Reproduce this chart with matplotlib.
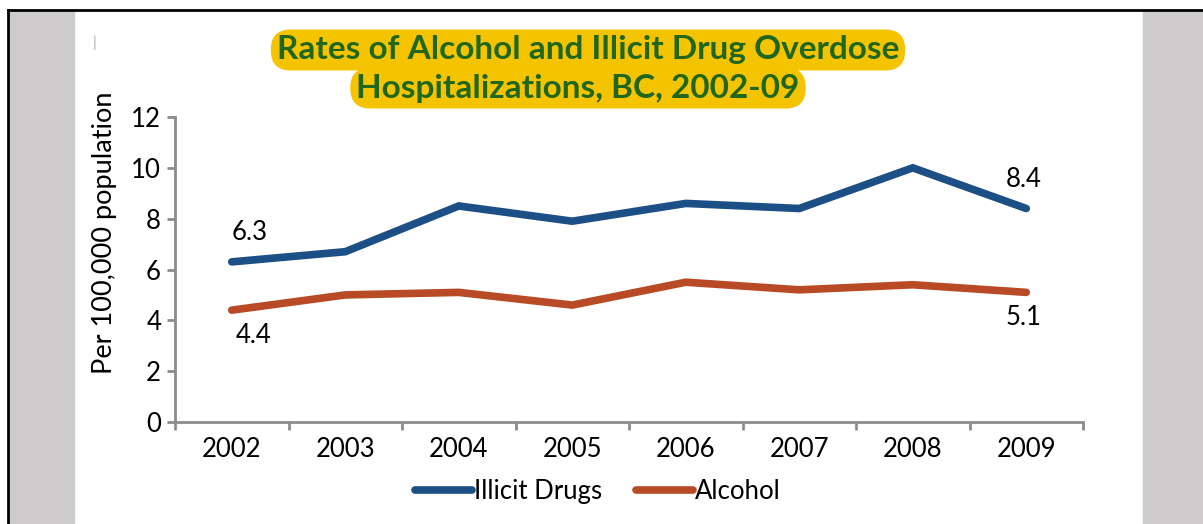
import matplotlib.pyplot as plt
from matplotlib.patches import Rectangle
from matplotlib.lines import Line2D

years = ["2002", "2003", "2004", "2005", "2006", "2007", "2008", "2009"]
illicit = [6.3, 6.7, 8.5, 7.9, 8.6, 8.4, 10.0, 8.4]
alcohol = [4.4, 5.0, 5.1, 4.6, 5.5, 5.2, 5.4, 5.1]
yticks = [0, 2, 4, 6, 8, 10, 12]

blue = "#1c4f86"
rust = "#b84b25"
grey = "#8c8c8c"

plt.rcParams["font.family"] = ["Lato", "DejaVu Sans"]

W, H = 1203, 524
fig = plt.figure(figsize=(W / 100, H / 100), dpi=100)

# page frame: grey side panels and black edge
fig.patches.append(Rectangle((8 / W, 0), 66 / W, 1 - 10 / H, transform=fig.transFigure,
                             color="#cdcbcc", zorder=0))
fig.patches.append(Rectangle((1143 / W, 0), 60 / W, 1 - 10 / H, transform=fig.transFigure,
                             color="#cdcbcc", zorder=0))
fig.lines.append(Line2D([8 / W, 1], [1 - 9.5 / H] * 2, transform=fig.transFigure, color="black", lw=2))
fig.lines.append(Line2D([8 / W] * 2, [0, 1 - 9.5 / H], transform=fig.transFigure, color="black", lw=2))

ax = fig.add_axes([175 / W, 1 - 422 / H, (1083 - 175) / W, (422 - 117) / H])
x = list(range(len(years)))
ax.plot(x, illicit, color=blue, lw=5.5, solid_capstyle="round", solid_joinstyle="miter", label="Illicit Drugs")
ax.plot(x, alcohol, color=rust, lw=5.5, solid_capstyle="round", solid_joinstyle="miter", label="Alcohol")

fs = 18.5
ax.set_xlim(-0.5, len(years) - 0.5)
ax.set_ylim(0, 12)
ax.set_yticks(yticks)
ax.set_xticks(x)
ax.set_xticklabels(years)
ax.set_xticks([i - 0.5 for i in range(len(years) + 1)], minor=True)
ax.tick_params(axis="x", which="major", length=0, pad=11, labelsize=fs)
ax.tick_params(axis="x", which="minor", length=6, width=2, color=grey)
ax.tick_params(axis="y", length=6, width=2, color=grey, labelsize=fs, pad=4)
for s in ["top", "right"]:
    ax.spines[s].set_visible(False)
for s in ["left", "bottom"]:
    ax.spines[s].set_color(grey)
    ax.spines[s].set_linewidth(2)
ax.set_ylabel("Per 100,000 population", fontsize=19.5)
ax.yaxis.set_label_coords(-0.064, 0.62)

# end-point value labels
ax.annotate(f"{illicit[0]}", (0, illicit[0]), xytext=(0, 12), textcoords="offset points",
            ha="left", va="bottom", fontsize=fs)
ax.annotate(f"{alcohol[0]}", (0, alcohol[0]), xytext=(3, -9), textcoords="offset points",
            ha="left", va="top", fontsize=fs)
ax.annotate(f"{illicit[-1]}", (7, illicit[-1]), xytext=(-15, 12), textcoords="offset points",
            ha="left", va="bottom", fontsize=fs)
ax.annotate(f"{alcohol[-1]}", (7, alcohol[-1]), xytext=(-15, -9), textcoords="offset points",
            ha="left", va="top", fontsize=fs)

leg = ax.legend(loc="upper center", bbox_to_anchor=(0.466, -0.11), ncol=2, frameon=False,
                fontsize=fs, handlelength=2.2, handletextpad=0.1, columnspacing=1.3)

# title with yellow highlight per line
tkw = dict(ha="center", va="center", fontsize=24, fontweight="bold", color="#20661c",
           bbox=dict(boxstyle="round,pad=0.18,rounding_size=0.6", fc="#f5c400", ec="none"))
fig.text(588 / W, 1 - 50 / H, "Rates of Alcohol and Illicit Drug Overdose", **tkw)
fig.text(578 / W, 1 - 88 / H, "Hospitalizations, BC, 2002-09", **tkw)
fig.text(95 / W, 1 - 43 / H, "|", fontsize=11, color="#aaaaaa", ha="center", va="center")

fig.savefig("out.png", dpi=100)
